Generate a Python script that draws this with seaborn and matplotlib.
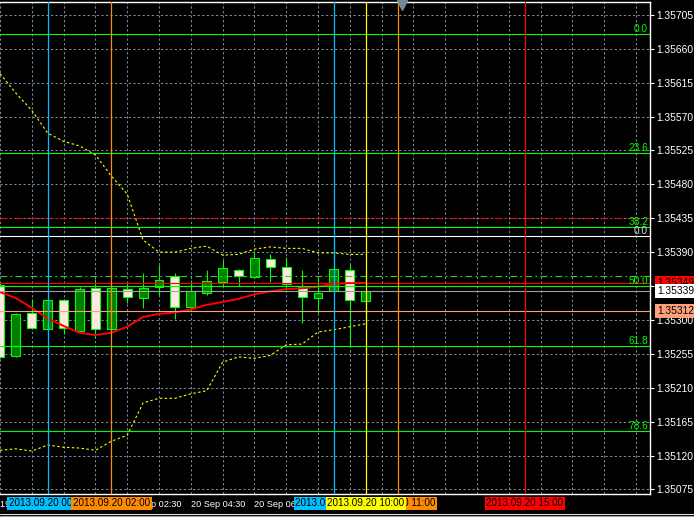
import pandas as pd
import numpy as np
import matplotlib
matplotlib.use('Agg')
import matplotlib.pyplot as plt
import matplotlib.transforms as mtrans
from matplotlib.lines import Line2D
import seaborn as sns

# M30 bars shown on the chart
bar_times = ['2013.09.19 22:30', '2013.09.19 23:00', '2013.09.19 23:30', '2013.09.20 00:00',
             '2013.09.20 00:30', '2013.09.20 01:00', '2013.09.20 01:30', '2013.09.20 02:00',
             '2013.09.20 02:30', '2013.09.20 03:00', '2013.09.20 03:30', '2013.09.20 04:00',
             '2013.09.20 04:30', '2013.09.20 05:00', '2013.09.20 05:30', '2013.09.20 06:00',
             '2013.09.20 06:30', '2013.09.20 07:00', '2013.09.20 07:30', '2013.09.20 08:00',
             '2013.09.20 08:30', '2013.09.20 09:00', '2013.09.20 09:30', '2013.09.20 10:00']
opens = [1.35346, 1.35252, 1.35309, 1.35288, 1.35326, 1.35285, 1.35342, 1.35288, 1.35341, 1.35329,
         1.35344, 1.35358, 1.35317, 1.35336, 1.35350, 1.35366, 1.35357, 1.35381, 1.35370, 1.35344,
         1.35329, 1.35338, 1.35366, 1.35325]
highs = [1.35349, 1.35309, 1.35328, 1.35328, 1.35328, 1.35344, 1.35354, 1.35344, 1.35350, 1.35362,
         1.35373, 1.35362, 1.35353, 1.35366, 1.35379, 1.35367, 1.35390, 1.35387, 1.35383, 1.35366,
         1.35356, 1.35410, 1.35374, 1.35339]
lows = [1.35249, 1.35251, 1.35288, 1.35287, 1.35281, 1.35284, 1.35276, 1.35287, 1.35322, 1.35316,
        1.35333, 1.35301, 1.35312, 1.35333, 1.35345, 1.35345, 1.35356, 1.35350, 1.35340, 1.35296,
        1.35309, 1.35337, 1.35264, 1.35293]
closes = [1.35251, 1.35308, 1.35289, 1.35326, 1.35289, 1.35341, 1.35288, 1.35342, 1.35330, 1.35342,
          1.35353, 1.35317, 1.35338, 1.35352, 1.35369, 1.35358, 1.35382, 1.35370, 1.35348, 1.35330,
          1.35336, 1.35367, 1.35326, 1.35339]

# indicator buffers
band_upper = [1.35627, 1.35601, 1.35578, 1.35548, 1.35537, 1.35531, 1.35519, 1.35491, 1.35467, 1.35406,
              1.35390, 1.35390, 1.35395, 1.35398, 1.35386, 1.35387, 1.35394, 1.35397, 1.35395, 1.35395,
              1.35389, 1.35389, 1.35387, 1.35387]
band_lower = [1.35127, 1.35129, 1.35126, 1.35134, 1.35131, 1.35130, 1.35127, 1.35139, 1.35147, 1.35190,
              1.35196, 1.35196, 1.35202, 1.35206, 1.35244, 1.35251, 1.35249, 1.35253, 1.35267, 1.35268,
              1.35284, 1.35287, 1.35291, 1.35295]
ma_line = [1.35337, 1.35329, 1.35316, 1.35302, 1.35292, 1.35283, 1.35280, 1.35283, 1.35291, 1.35304,
           1.35308, 1.35310, 1.35314, 1.35320, 1.35324, 1.35328, 1.35334, 1.35338, 1.35341, 1.35342,
           1.35344, 1.35348, 1.35349, 1.35349]

# fibo retracement
fib_high = 1.35680
fib_low = 1.35009
fib_levels = [0.0, 23.6, 38.2, 50.0, 61.8, 78.6]

# horizontal objects
hline_prices = [1.35435, 1.35411, 1.35358, 1.35349, 1.35339, 1.35312]
hline_colors = ['#FF0000', '#FFFFFF', '#32CD32', '#FF0000', '#A0A0A0', '#FFA07A']
hline_styles = ['dashdot', 'solid', 'dashdot', 'solid', 'solid', 'solid']
price_tags = [1.35349, 1.35339, 1.35312]
price_tag_colors = ['#FF0000', '#FFFFFF', '#FFA07A']

# vertical objects (drawing order)
vline_times = ['2013.09.20 00:00', '2013.09.20 02:00', '2013.09.20 09:00',
               '2013.09.20 11:00', '2013.09.20 10:00', '2013.09.20 15:00']
vline_colors = ['#00BFFF', '#FF8C00', '#00BFFF', '#FF8C00', '#FFFF00', '#FF0000']

price_ticks = [1.35075, 1.35120, 1.35165, 1.35210, 1.35255, 1.35300, 1.35345, 1.35390,
               1.35435, 1.35480, 1.35525, 1.35570, 1.35615, 1.35660, 1.35705]
time_ticks = ['2013.09.19 22:30', '2013.09.20 00:30', '2013.09.20 02:30',
              '2013.09.20 04:30', '2013.09.20 06:30', '2013.09.20 08:30']
time_labels = ['19 Sep 22:30', '20 Sep 00:30', '20 Sep 02:30',
               '20 Sep 04:30', '20 Sep 06:30', '20 Sep 08:30']

base = pd.Timestamp('2013-09-20 00:00')
def to_hours(s):
    return (pd.to_datetime(s, format='%Y.%m.%d %H:%M') - base) / pd.Timedelta(hours=1)

df = pd.DataFrame({'t': to_hours(pd.Series(bar_times)), 'open': opens, 'high': highs,
                   'low': lows, 'close': closes, 'upper': band_upper, 'lower': band_lower,
                   'ma': ma_line})

sns.set_style('dark', {'axes.facecolor': 'black', 'figure.facecolor': 'black',
                       'axes.edgecolor': 'white', 'grid.color': '#778899'})
plt.rcParams['font.family'] = ['Liberation Sans', 'DejaVu Sans']

W, H = 694, 517
fig = plt.figure(figsize=(W / 100, H / 100), dpi=100, facecolor='black')
ax = fig.add_axes([0, 1 - 494 / H, 650 / W, 492 / H])
ax.set_facecolor('black')

# candles
lime = '#00FF00'
ax.vlines(df['t'], df['low'], df['high'], color=lime, lw=0.8, zorder=3)
up = df['close'] >= df['open']
ax.bar(df['t'][up], (df['close'] - df['open'])[up], bottom=df['open'][up], width=0.28,
       color='#008000', edgecolor=lime, linewidth=0.8, zorder=4)
ax.bar(df['t'][~up], (df['open'] - df['close'])[~up], bottom=df['close'][~up], width=0.28,
       color='#FFE8E2', edgecolor=lime, linewidth=0.8, zorder=4)

# indicators
sns.lineplot(data=df, x='t', y='upper', ax=ax, color='#FFFF00', lw=0.8,
             linestyle=(0, (2.2, 2.2)), zorder=5)
sns.lineplot(data=df, x='t', y='lower', ax=ax, color='#FFFF00', lw=0.8,
             linestyle=(0, (2.2, 2.2)), zorder=5)
sns.lineplot(data=df, x='t', y='ma', ax=ax, color='#FF0000', lw=1.4, zorder=5)

# fibo levels
tr_right = mtrans.blended_transform_factory(ax.transAxes, ax.transData)
for lvl in fib_levels:
    p = fib_high - (fib_high - fib_low) * lvl / 100
    ax.axhline(p, color=lime, lw=0.8, zorder=6)
    ax.text(0.997, p, f'{lvl:.1f}', color=lime, fontsize=7.3, ha='right', va='bottom',
            transform=tr_right, zorder=7)

for p, c, s in zip(hline_prices, hline_colors, hline_styles):
    ls = (0, (6, 3, 1.5, 3)) if s == 'dashdot' else '-'
    ax.axhline(p, color=c, lw=0.8, linestyle=ls, zorder=6)
ax.text(0.997, hline_prices[1], '0.0', color='#DDDDDD', fontsize=7.3, ha='right', va='bottom',
        transform=tr_right, zorder=7)

# vertical lines with time tags
vx = to_hours(pd.Series(vline_times))
tr_bottom = mtrans.blended_transform_factory(ax.transData, ax.transAxes)
for i, (x, c, s) in enumerate(zip(vx, vline_colors, vline_times)):
    ax.axvline(x, color=c, lw=0.9, zorder=8)
    ax.text(x, -0.019, s, color='black', fontsize=7.1, ha='center', va='center',
            transform=tr_bottom, clip_on=False, zorder=20 + i,
            bbox=dict(boxstyle='square,pad=0.17', fc=c, ec='none'))

# price tags on the right
for i, (p, c) in enumerate(zip(price_tags, price_tag_colors)):
    ax.text(1.011, p, f'{p:.5f}', color='black', fontsize=7.4, ha='left', va='center',
            transform=tr_right, clip_on=False, zorder=30 + i,
            bbox=dict(boxstyle='square,pad=0.2', fc=c, ec='none'))

# axes, ticks, grid
ax.set_xlim(-1.375, 18.9375)
ax.set_ylim(1.35069, 1.35722)
ax.set_yticks(price_ticks)
ax.set_yticklabels([f'{p:.5f}' for p in price_ticks])
ax.yaxis.tick_right()
ax.tick_params(axis='y', colors='white', length=3, width=0.8, pad=1.5, labelsize=7.4)
ax.set_xticks(to_hours(pd.Series(time_ticks)))
ax.set_xticklabels(time_labels, ha='left')
ax.set_xticks(np.arange(-0.5, 19, 1.0), minor=True)
ax.tick_params(axis='x', which='major', colors='white', length=3, width=0.8, pad=1, labelsize=6.6)
ax.tick_params(axis='x', which='minor', length=0)
ax.grid(True, which='both', color='#778899', linestyle=(0, (2.2, 2.2)), lw=0.75)
ax.set_axisbelow(True)
ax.set_xlabel('')
ax.set_ylabel('')
for side in ['top', 'right', 'bottom']:
    ax.spines[side].set_color('white')
    ax.spines[side].set_linewidth(1)
ax.spines['left'].set_visible(False)

# chart shift marker
ax.plot(402 / 650, 0.9949, marker='v', color='#778899', ms=6.5, transform=ax.transAxes,
        clip_on=False, zorder=9)

fig.add_artist(Line2D([0, 1], [1 - 513.5 / H] * 2, color='#E0E0E0', lw=0.8))
fig.add_artist(Line2D([0, 1], [1 - 516 / H] * 2, color='#A0A0A0', lw=0.8))

fig.savefig('out.png', dpi=100, facecolor='black')
